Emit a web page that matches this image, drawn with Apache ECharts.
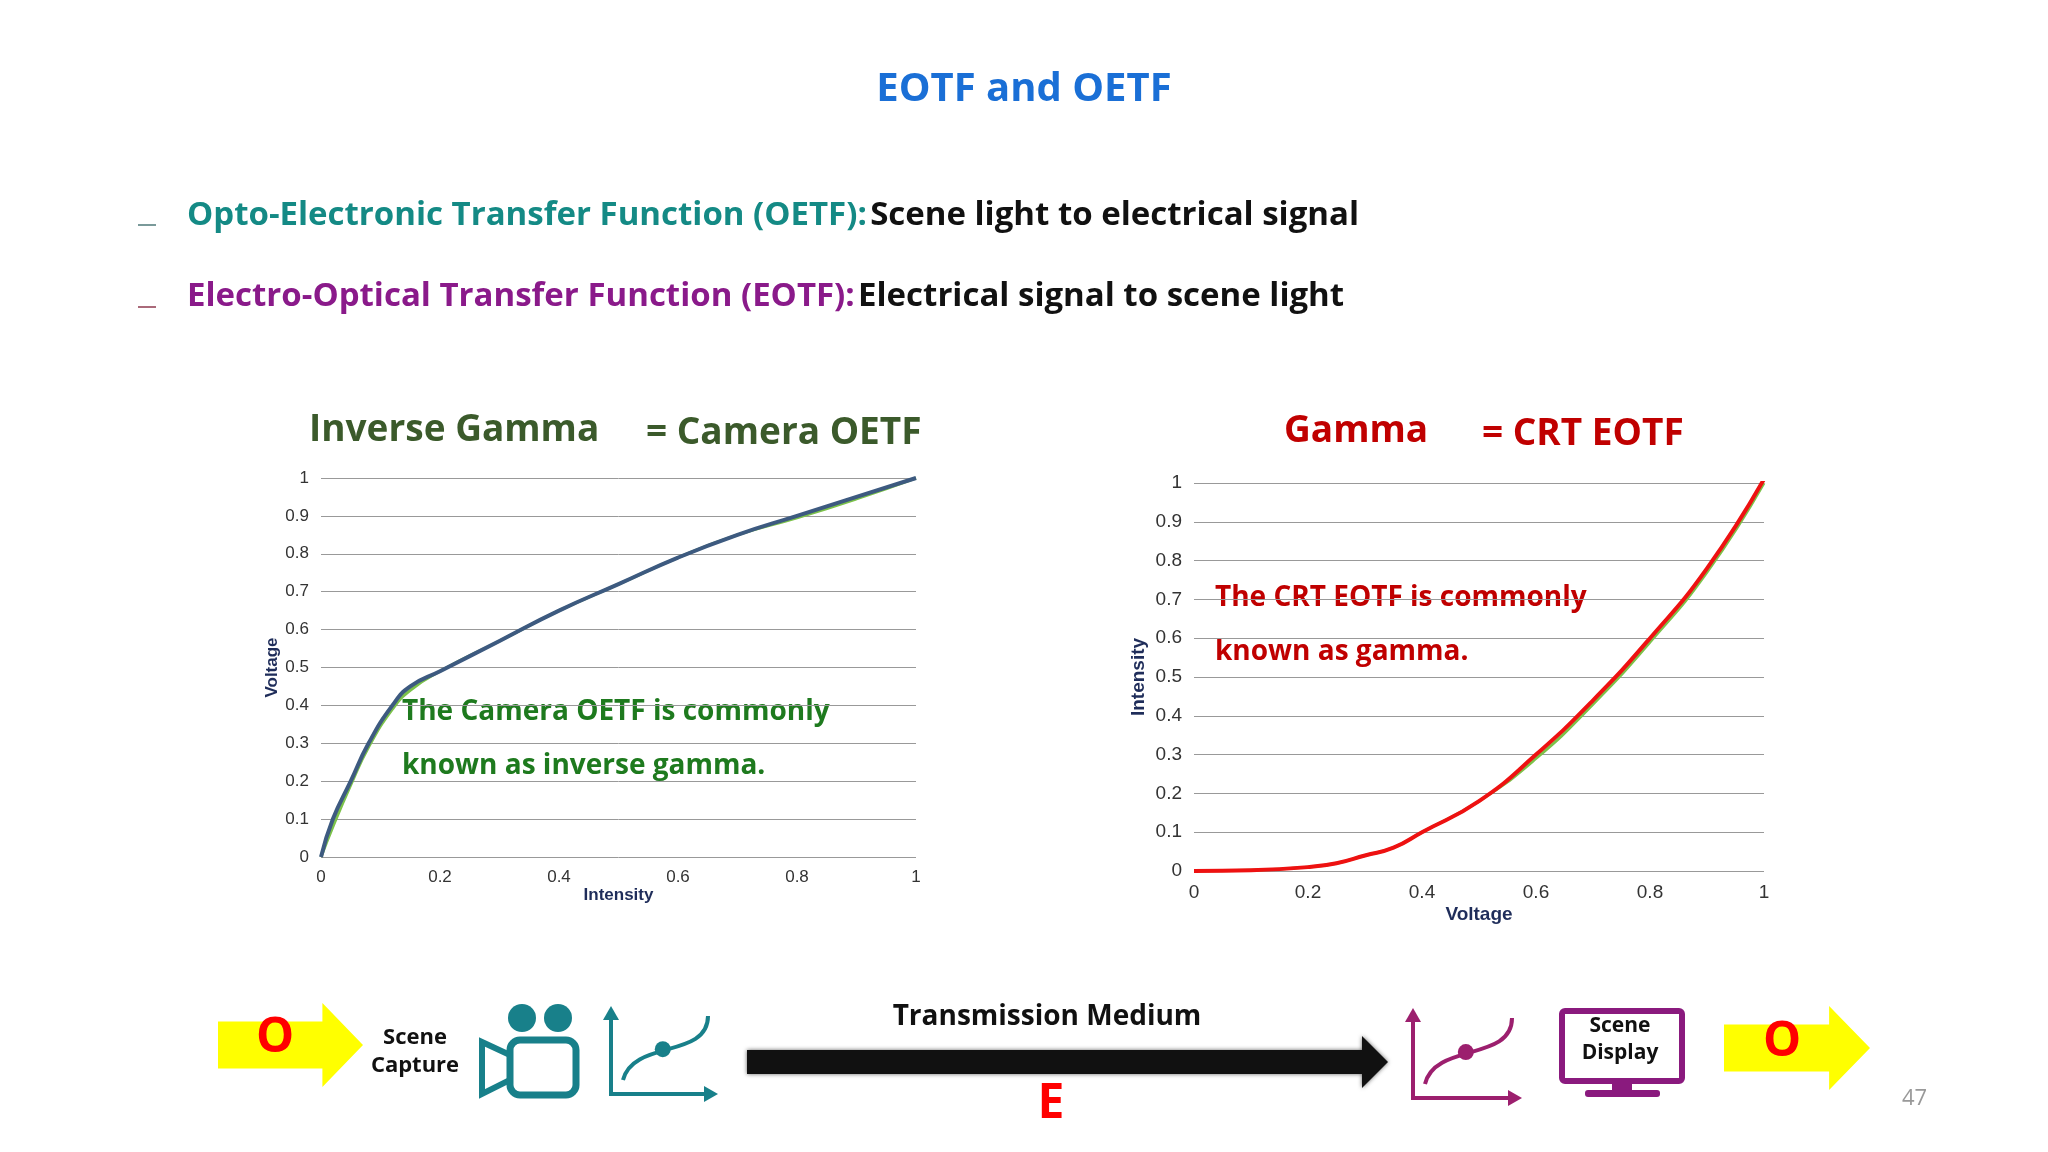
<!DOCTYPE html>
<html><head><meta charset="utf-8">
<script src="https://cdn.jsdelivr.net/npm/echarts@6/dist/echarts.min.js"></script>
<style>html,body{margin:0;padding:0;background:#fff}#c{width:2048px;height:1152px}</style>
</head><body><div id="c"></div>
<script>
const oetfX=[0,0.02,0.05,0.08,0.12,0.15,0.2,0.3,0.4,0.5,0.6,0.7,0.8,0.9,1];
const oetfY=[0,0.1,0.2,0.3,0.4,0.45,0.49,0.57,0.65,0.72,0.79,0.85,0.9,0.95,1];
const oetfRefY=[0,0.08,0.19,0.29,0.39,0.44,0.49,0.57,0.65,0.72,0.79,0.85,0.895,0.945,1];
const eotfX=[0,0.1,0.2,0.25,0.3,0.35,0.4,0.5,0.6,0.7,0.8,0.9,1];
const eotfY=[0,0.002,0.01,0.02,0.04,0.06,0.1,0.18,0.3,0.44,0.6,0.78,1.01];
const eotfRefY=[0,0.002,0.01,0.02,0.04,0.06,0.1,0.18,0.29,0.43,0.59,0.77,1];
const F='"Open Sans", sans-serif';
const pairs=(xs,ys)=>xs.map((x,i)=>[x,ys[i]]);
const ch=echarts.init(document.getElementById('c'));
function ax(idx,name,fs,gap,isY){return{type:'value',gridIndex:idx,min:0,max:1,interval:isY?0.1:0.2,name:name,nameLocation:'middle',nameGap:gap,
 nameTextStyle:{color:'#1f2d5a',fontSize:fs,fontWeight:'bold',fontFamily:'Arial'},
 axisLine:{show:false},axisTick:{show:false},
 axisLabel:{color:'#333',fontSize:fs,fontFamily:'Arial',formatter:v=>+v.toFixed(1)+'',margin:12},
 splitLine:{show:isY,lineStyle:{color:'#999',width:1}}};}
const G=[];
function txt(x,y,t,fs,col,extra){G.push(Object.assign({type:'text',left:x,top:y,style:{text:t,font:`bold ${fs}px ${F}`,fill:col}},extra||{}));}
txt('center',70,'EOTF and OETF',40,'#1a6fd6');
G.push({type:'rect',shape:{x:138,y:224,width:18,height:2},style:{fill:'#7a9a9a'}});
G.push({type:'rect',shape:{x:138,y:306,width:18,height:2},style:{fill:'#aa6a7a'}});
G.push({type:'text',left:187,top:199,style:{rich:{a:{font:`bold 33px ${F}`,fill:'#148a85'},b:{font:`bold 33px ${F}`,fill:'#111'}},text:'{a|Opto-Electronic Transfer Function (OETF):} {b|Scene light to electrical signal}'}});
G.push({type:'text',left:187,top:280,style:{rich:{a:{font:`bold 33px ${F}`,fill:'#8a1a8a'},b:{font:`bold 33px ${F}`,fill:'#111'}},text:'{a|Electro-Optical Transfer Function (EOTF):} {b|Electrical signal to scene light}'}});
txt(309,412,'Inverse Gamma',37,'#3b5a2b');txt(646,415,'= Camera OETF',37,'#3b5a2b');
txt(1284,413,'Gamma',37,'#c00000');txt(1482,416,'= CRT EOTF',37,'#c00000');
txt(402,698,'The Camera OETF is commonly',28,'#1e7a1e');txt(402,752,'known as inverse gamma.',28,'#1e7a1e');
txt(1215,584,'The CRT EOTF is commonly',28,'#c00000');txt(1215,638,'known as gamma.',28,'#c00000');
function yArrow(x0,y0,x1,y1){const bt=y0+(y1-y0)*0.22,bb=y1-(y1-y0)*0.22,hx=x0+(x1-x0)*0.72;
 G.push({type:'polygon',shape:{points:[[x0,bt],[hx,bt],[hx,y0],[x1,(y0+y1)/2],[hx,y1],[hx,bb],[x0,bb]]},style:{fill:'#ffff00'}});}
yArrow(218,1003,363,1087);yArrow(1724,1006,1870,1090);
txt(256,1014,'O',48,'#ff0000');txt(1763,1018,'O',48,'#ff0000');
G.push({type:'text',x:415,y:1024,style:{text:'Scene\nCapture',font:`bold 22px ${F}`,fill:'#111',textAlign:'center',lineHeight:28}});
G.push({type:'text',x:1620,y:1013,style:{text:'Scene\nDisplay',font:`bold 21px ${F}`,fill:'#111',textAlign:'center',lineHeight:27}});
const teal='#18808a';
G.push({type:'circle',shape:{cx:522,cy:1018,r:14},style:{fill:teal}});
G.push({type:'circle',shape:{cx:558,cy:1018,r:14},style:{fill:teal}});
G.push({type:'rect',shape:{x:510,y:1040,width:66,height:55,r:10},style:{fill:'none',stroke:teal,lineWidth:7}});
G.push({type:'polygon',shape:{points:[[510,1055],[482,1042],[482,1094],[510,1080]]},style:{fill:'none',stroke:teal,lineWidth:6}});
function graphIcon(x,y,w,h,col){
 G.push({type:'polyline',shape:{points:[[x+8,y+10],[x+8,y+h-8],[x+w-12,y+h-8]]},style:{stroke:col,lineWidth:4,fill:'none'}});
 G.push({type:'polygon',shape:{points:[[x,y+14],[x+8,y],[x+16,y+14]]},style:{fill:col}});
 G.push({type:'polygon',shape:{points:[[x+w-14,y+h-16],[x+w,y+h-8],[x+w-14,y+h]]},style:{fill:col}});
 G.push({type:'bezierCurve',shape:{x1:x+20,y1:y+h-22,cpx1:x+30,cpy1:y+h*0.35,x2:x+w-10,y2:y+10,cpx2:x+w-10,cpy2:y+h*0.55},style:{stroke:col,lineWidth:4,fill:'none'}});
 G.push({type:'circle',shape:{cx:x+w*0.52,cy:y+h*0.45,r:8},style:{fill:col}});}
graphIcon(603,1006,115,96,teal);graphIcon(1405,1008,117,98,'#9c1f6e');
G.push({type:'polygon',shape:{points:[[747,1050],[1362,1050],[1362,1036],[1388,1062],[1362,1088],[1362,1074],[747,1074]]},style:{fill:'#111',shadowBlur:4,shadowColor:'#666'}});
G.push({type:'text',x:1047,y:1003,style:{text:'Transmission Medium',font:`bold 28px ${F}`,fill:'#111',textAlign:'center'}});
G.push({type:'text',x:1051,y:1080,style:{text:'E',font:`bold 48px ${F}`,fill:'#ff0000',textAlign:'center'}});
const pur='#8a1a7e';
G.push({type:'rect',shape:{x:1562,y:1011,width:120,height:70,r:3},style:{fill:'none',stroke:pur,lineWidth:6}});
G.push({type:'rect',shape:{x:1612,y:1081,width:20,height:10},style:{fill:pur}});
G.push({type:'rect',shape:{x:1585,y:1090,width:75,height:7,r:3},style:{fill:pur}});
G.push({type:'text',left:1902,top:1088,style:{text:'47',font:`22px ${F}`,fill:'#999'}});
ch.setOption({animation:false,
 grid:[{left:321,width:595,top:478,height:379},{left:1194,width:570,top:483,height:388}],
 xAxis:[ax(0,'Intensity',17,28,false),ax(1,'Voltage',19,34,false)],
 yAxis:[ax(0,'Voltage',17,40,true),ax(1,'Intensity',19,46,true)],
 series:[
  {type:'line',xAxisIndex:0,yAxisIndex:0,data:pairs(oetfX,oetfRefY),smooth:true,symbol:'none',lineStyle:{color:'#7cc24a',width:3}},
  {type:'line',xAxisIndex:0,yAxisIndex:0,data:pairs(oetfX,oetfY),smooth:true,symbol:'none',lineStyle:{color:'#3d5a80',width:4}},
  {type:'line',xAxisIndex:1,yAxisIndex:1,data:pairs(eotfX,eotfRefY),smooth:true,symbol:'none',lineStyle:{color:'#7cc24a',width:3}},
  {type:'line',xAxisIndex:1,yAxisIndex:1,data:pairs(eotfX,eotfY),smooth:true,symbol:'none',lineStyle:{color:'#ee1111',width:4}}],
 graphic:G});
</script></body></html>
